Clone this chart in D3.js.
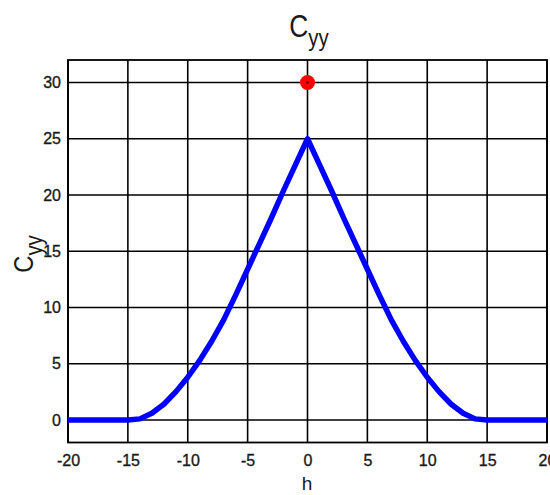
<!DOCTYPE html>
<html>
<head>
<meta charset="utf-8">
<script src="https://cdn.jsdelivr.net/npm/d3@7/dist/d3.min.js"></script>
<style>
  html, body { margin: 0; padding: 0; background: #fff; }
  svg { display: block; }
  text { font-family: "Liberation Sans", Arial, sans-serif; fill: #1a1a1a; }
</style>
</head>
<body>
<svg id="chart" width="550" height="495"></svg>
<script>
// Lags h and the autocovariance C_yy(h)
const lags = [-20, -19, -18, -17, -16, -15, -14, -13, -12, -11, -10, -9, -8, -7, -6, -5, -4, -3, -2, -1,
              0, 1, 2, 3, 4, 5, 6, 7, 8, 9, 10, 11, 12, 13, 14, 15, 16, 17, 18, 19, 20];
const cyy = [0, 0, 0, 0, 0, 0, 0.1, 0.6, 1.4, 2.5, 3.8, 5.3, 7.0, 8.9, 11.1, 13.4, 15.7, 18.0, 20.4, 22.7,
             25, 22.7, 20.4, 18.0, 15.7, 13.4, 11.1, 8.9, 7.0, 5.3, 3.8, 2.5, 1.4, 0.6, 0.1, 0, 0, 0, 0, 0, 0];

// Single highlighted value at lag 0
const markerH = [0];
const markerC = [30];

const xTicks = [-20, -15, -10, -5, 0, 5, 10, 15, 20];
const yTicks = [0, 5, 10, 15, 20, 25, 30];

const svg = d3.select("#chart");
const plot = { left: 68, right: 547, top: 60, bottom: 442.5 };

const x = d3.scaleLinear().domain([-20, 20]).range([plot.left, plot.right]);
const y = d3.scaleLinear().domain([-2, 32]).range([plot.bottom, plot.top]);

// Grid
const grid = svg.append("g").attr("stroke", "#000").attr("stroke-width", 1.6);
grid.selectAll("line.gx").data(xTicks).join("line")
  .attr("x1", d => x(d)).attr("x2", d => x(d))
  .attr("y1", plot.top).attr("y2", plot.bottom);
grid.selectAll("line.gy").data(yTicks).join("line")
  .attr("x1", plot.left).attr("x2", plot.right)
  .attr("y1", d => y(d)).attr("y2", d => y(d));

// Axes frame
svg.append("rect")
  .attr("x", plot.left).attr("y", plot.top)
  .attr("width", plot.right - plot.left).attr("height", plot.bottom - plot.top)
  .attr("fill", "none").attr("stroke", "#000").attr("stroke-width", 1.8);

// Tick labels via d3 axes
const fmt = d => (d < 0 ? "-" + Math.abs(d) : String(d));
const xAxis = svg.append("g")
  .attr("transform", `translate(0,${plot.bottom})`)
  .call(d3.axisBottom(x).tickValues(xTicks).tickFormat(fmt).tickSize(0).tickPadding(12));
const yAxis = svg.append("g")
  .attr("transform", `translate(${plot.left},0)`)
  .call(d3.axisLeft(y).tickValues(yTicks).tickFormat(fmt).tickSize(0).tickPadding(7));
[xAxis, yAxis].forEach(a => {
  a.select(".domain").remove();
  a.selectAll("text")
    .style("font-size", "16px")
    .style("font-family", "'Liberation Sans', Arial, sans-serif")
    .attr("fill", "#1a1a1a")
    .attr("stroke", "#1a1a1a")
    .attr("stroke-width", 0.35);
});

// Curve
const line = d3.line().x((d, i) => x(lags[i])).y(d => y(d));
svg.append("path")
  .datum(cyy)
  .attr("d", line)
  .attr("fill", "none")
  .attr("stroke", "#0000ff")
  .attr("stroke-width", 5.5)
  .attr("stroke-linejoin", "round")
  .attr("stroke-linecap", "butt");

// Marker
svg.selectAll("circle.mk").data(markerC).join("circle")
  .attr("cx", (d, i) => x(markerH[i])).attr("cy", d => y(d))
  .attr("r", 7.5).attr("fill", "#ff0000");
svg.selectAll("circle.mc").data(markerC).join("circle")
  .attr("cx", (d, i) => x(markerH[i])).attr("cy", d => y(d))
  .attr("r", 1.2).attr("fill", "#400");

// Title
const title = svg.append("text")
  .attr("transform", "translate(309,37) scale(0.85,1)")
  .attr("text-anchor", "middle")
  .style("font-size", "31px");
title.append("tspan").text("C");
title.append("tspan").attr("dy", 9).style("font-size", "24px").text("yy");

// Axis labels
svg.append("text")
  .attr("x", 307).attr("y", 490)
  .attr("text-anchor", "middle")
  .style("font-size", "19px")
  .text("h");

const ylab = svg.append("text")
  .attr("transform", "translate(33,254) rotate(-90) scale(0.85,1)")
  .attr("text-anchor", "middle")
  .style("font-size", "28px");
ylab.append("tspan").text("C");
ylab.append("tspan").attr("dy", 9).style("font-size", "24px").text("yy");
</script>
</body>
</html>
